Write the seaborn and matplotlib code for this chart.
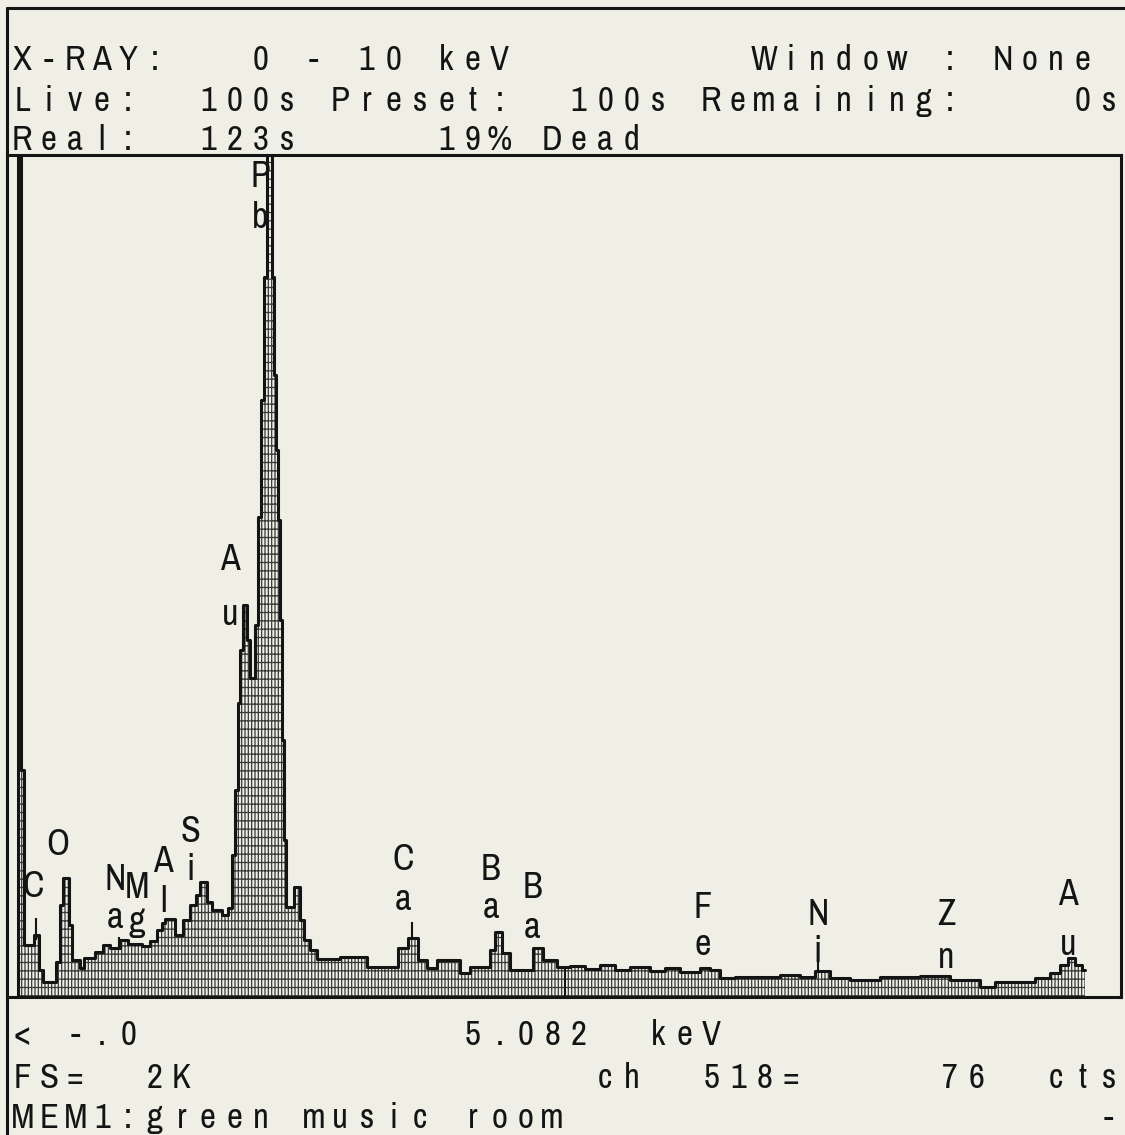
#Import packages
import numpy as np
import pandas as pd
import matplotlib
matplotlib.use("Agg")
import matplotlib.pyplot as plt
import seaborn as sns
from matplotlib import font_manager

#Spectrum: group edges in keV and counts in each group
edges_kev = [0.000, 0.087, 0.110, 0.137, 0.233, 0.279, 0.315, 0.434, 0.470, 0.498,
             0.553, 0.580, 0.653, 0.689, 0.790, 0.863, 0.927, 1.018, 1.091, 1.219,
             1.292, 1.356, 1.402, 1.429, 1.521, 1.594, 1.658, 1.712, 1.749, 1.813,
             1.858, 1.950, 2.005, 2.041, 2.068, 2.096, 2.114, 2.142, 2.178, 2.205,
             2.251, 2.278, 2.306, 2.333, 2.361, 2.406, 2.425, 2.443, 2.461, 2.479,
             2.498, 2.516, 2.534, 2.607, 2.662, 2.699, 2.753, 2.817, 3.027, 3.274,
             3.557, 3.648, 3.740, 3.822, 3.913, 4.123, 4.215, 4.397, 4.443, 4.507,
             4.580, 4.790, 4.881, 5.009, 5.128, 5.265, 5.402, 5.539, 5.676, 5.858,
             5.995, 6.132, 6.315, 6.406, 6.498, 6.635, 7.046, 7.228, 7.365, 7.502,
             7.685, 7.959, 8.324, 8.598, 8.872, 9.009, 9.374, 9.511, 9.607, 9.676,
             9.740, 9.804, 9.831]
counts = [0, 2600, 552, 126, 151, 66, 36, 85, 224, 289,
          175, 90, 71, 95, 109, 126, 119, 139, 129, 124,
          136, 163, 180, 190, 151, 187, 224, 248, 280, 231,
          212, 199, 216, 345, 503, 715, 844, 953, 868, 776,
          905, 1167, 1452, 1751, 2400, 1751, 1513, 1330, 1160, 917,
          625, 382, 219, 267, 187, 139, 114, 92, 97, 73,
          120, 143, 90, 71, 90, 58, 73, 114, 158, 107,
          66, 119, 90, 72, 75, 68, 78, 66, 73, 63,
          70, 60, 71, 66, 46, 49, 54, 49, 63, 46,
          41, 49, 51, 41, 24, 36, 46, 58, 78, 95,
          78, 66]

full_scale = 2048

#Element labels: symbol, energy, baseline of first and second letter (counts)
label_sym = ["C", "O", "Na", "Mg", "Al", "Si", "Au", "Pb", "Ca", "Ba", "Ba", "Fe", "Ni", "Zn", "Au"]
label_kev = [0.224, 0.452, 0.973, 1.174, 1.411, 1.658, 2.023, 2.297, 3.603, 4.406, 4.781, 6.342, 7.393, 8.562, 9.676]
label_top = [243, 345, 260, 241, 304, 377, 1038, 1970, 309, 285, 241, 192, 175, 175, 224]
label_bot = [0, 0, 168, 158, 207, 285, 905, 1870, 212, 192, 143, 102, 85, 71, 102]

#Short marker strokes under some labels
marker_kev = [0.251, 1.009, 3.685, 7.393]
marker_lo = [139, 122, 139, 61]
marker_hi = [192, 146, 182, 100]

#Cursor
cursor_kev = 5.082
cursor_cts = 76

#Screen text rows
header_lines = ["X-RAY:   0 - 10 keV         Window : None",
                "Live:  100s Preset:  100s Remaining:    0s",
                "Real:  123s     19% Dead"]
footer_lines = ["< -.0            5.082  keV",
                "FS=  2K               ch  518=     76  cts",
                "MEM1:green music room                    -"]

#Style
sns.set_style("white")

#Look for a narrow face, the screen font is tall and thin
term_font, term_stretch = "DejaVu Sans Mono", "normal"
fonts = font_manager.fontManager.ttflist
for f in fonts:
    if f.name == "Liberation Sans Narrow" and f.weight in (400, "normal", "regular"):
        term_font, term_stretch = f.name, "normal"
        break
else:
    for f in fonts:
        if "Condensed" in f.name or "Narrow" in f.name:
            term_font, term_stretch = f.name, "normal"
            break
    else:
        for f in fonts:
            if f.name == "DejaVu Sans" and f.stretch == "condensed":
                term_font, term_stretch = "DejaVu Sans", "condensed"
                break

plt.rcParams["font.family"] = [term_font, "DejaVu Sans"]
plt.rcParams["hatch.linewidth"] = 0.9

paper = "#efefe6"
ink = "#141414"

fig = plt.figure(figsize=(11.25, 11.35), dpi=100, facecolor=paper)

#Whole screen in pixel units, for the frame and text rows
scr = fig.add_axes([0, 0, 1, 1])
scr.set_xlim(0, 1125)
scr.set_ylim(1135, 0)
scr.axis("off")
scr.plot([7, 1125], [8, 8], color=ink, lw=2.2)
scr.plot([7, 7], [8, 1135], color=ink, lw=2.2)

col_w, col_x0 = 26.5, 9

def put_row(text, base_y):
    for i, ch in enumerate(text):
        if ch != " ":
            scr.text(col_x0 + (i + 0.5) * col_w, base_y, ch, ha="center",
                     va="baseline", fontsize=25, fontstretch=term_stretch, color=ink)

for line, y in zip(header_lines, [70, 111, 150]):
    put_row(line, y)
for line, y in zip(footer_lines, [1045, 1088, 1128]):
    put_row(line, y)

#Spectrum window
ax = fig.add_axes([7 / 1125, 138 / 1135, 1114 / 1125, 842 / 1135])
ax.set_facecolor(paper)
edges = np.array(edges_kev)
spec = pd.DataFrame({"kev": (edges[:-1] + edges[1:]) / 2, "cts": counts})

sns.histplot(data=spec, x="kev", weights="cts", bins=edges_kev, element="step",
             fill=True, facecolor=paper, edgecolor="#3a3a3a", linewidth=0,
             hatch="|||||--", alpha=1, ax=ax)
sns.histplot(data=spec, x="kev", weights="cts", bins=edges_kev, element="step",
             fill=False, color=ink, linewidth=2.2, ax=ax)

#Element labels, one letter above the other
for sym, e, top, bot in zip(label_sym, label_kev, label_top, label_bot):
    ax.text(e, top, sym[0], ha="center", va="baseline", fontsize=26,
            fontstretch=term_stretch, color=ink)
    if len(sym) > 1:
        ax.text(e, bot, sym[1], ha="center", va="baseline", fontsize=26,
                fontstretch=term_stretch, color=ink)

ax.vlines(marker_kev, marker_lo, marker_hi, color=ink, lw=1.5)
ax.vlines(cursor_kev, 0, cursor_cts, color=ink, lw=1.5)

ax.set_xlim(-0.014, 10.16)
ax.set_ylim(0, full_scale)
ax.set(xlabel="", ylabel="", xticks=[], yticks=[])
for s in ax.spines.values():
    s.set_visible(True)
    s.set_color(ink)
    s.set_linewidth(2.2)

fig.savefig("out.png", dpi=100, facecolor=paper)
